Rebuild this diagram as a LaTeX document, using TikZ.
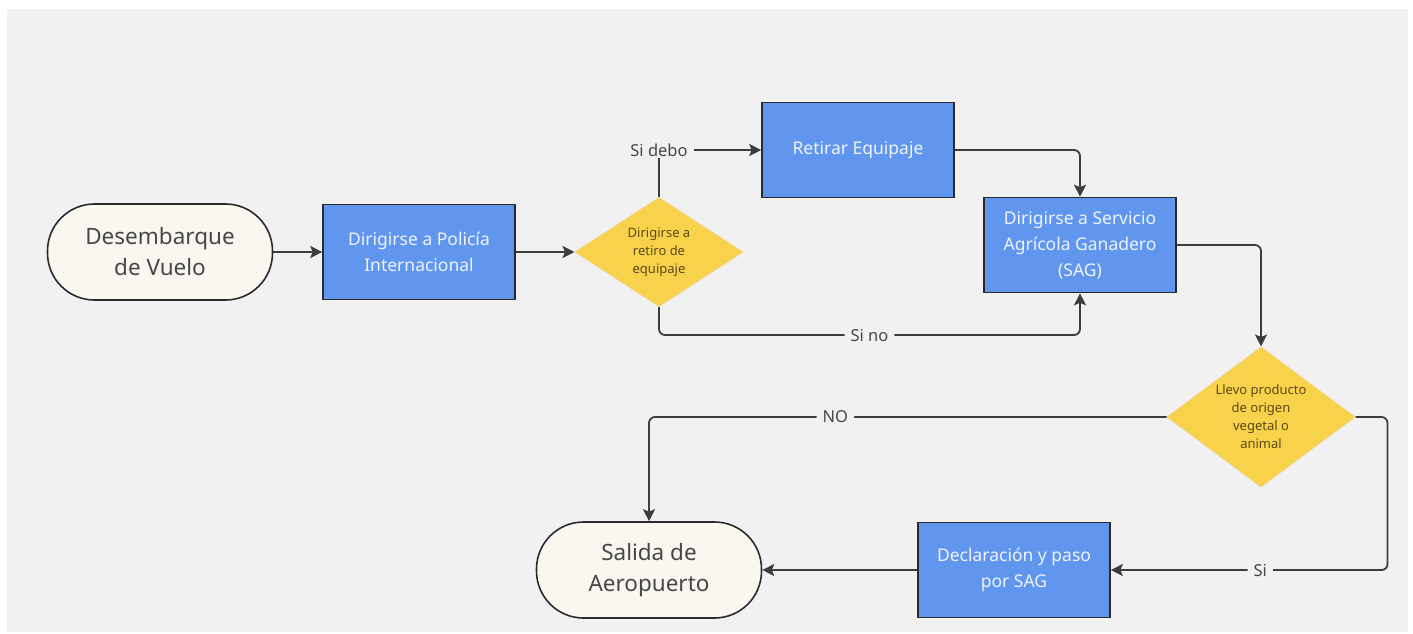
\documentclass[tikz,border=0pt]{standalone}
\usepackage{fontspec}
\setmainfont{Noto Sans}
\usetikzlibrary{shapes.geometric,arrows.meta,positioning}
\definecolor{fondo}{HTML}{F1F1F1}
\definecolor{crema}{HTML}{FAF7F0}
\definecolor{borde}{HTML}{2B2B2B}
\definecolor{azul}{HTML}{6096EE}
\definecolor{textoazul}{HTML}{EEF3FF}
\definecolor{amarillo}{HTML}{F8D24A}
\definecolor{bordeamarillo}{HTML}{F0D67E}
\definecolor{textoamarillo}{HTML}{5B4A17}
\definecolor{linea}{HTML}{3D3D3D}
\definecolor{textogris}{HTML}{474747}
\begin{document}
\begin{tikzpicture}[x=1pt,y=-1pt,
    inicio/.style={rectangle,rounded corners=47pt,draw=borde,line width=1.6pt,fill=crema,
      minimum width=225pt,minimum height=96pt,align=center,text=textogris,
      font=\fontsize{22.5}{31}\selectfont},
    proceso/.style={rectangle,draw=borde,line width=1.6pt,fill=azul,
      minimum width=192pt,minimum height=95pt,align=center,text=textoazul,
      font=\fontsize{17.5}{26}\selectfont},
    decision/.style={diamond,fill=amarillo,draw=bordeamarillo,line width=1pt,inner sep=0pt,
      align=center,text=textoamarillo,font=\fontsize{13}{18}\selectfont},
    flecha/.style={draw=linea,line width=1.8pt,rounded corners=6pt,
      -{Stealth[length=12pt,width=12pt,inset=2.5pt]}},
    etiqueta/.style={fill=fondo,inner xsep=6pt,inner ysep=2pt,text=textogris,
      font=\fontsize{16.5}{20}\selectfont}]
  \useasboundingbox[fill=white] (0,0) rectangle (1413,633);
  \fill[fondo] (7,9) rectangle (1408,632);

  \node[inicio] (desembarque) at (160,252) {Desembarque\\de Vuelo};
  \node[proceso] (policia) at (419,252) {Dirigirse a Policía\\Internacional};
  \node[decision,minimum width=168pt,minimum height=109pt,shape aspect=1.5] (retiro) at (659,252)
    {Dirigirse a\\retiro de\\equipaje};
  \node[proceso] (equipaje) at (858,150) {Retirar Equipaje};
  \node[proceso] (sag) at (1080,245) {Dirigirse a Servicio\\Agrícola Ganadero\\(SAG)};
  \node[decision,minimum width=188pt,minimum height=140pt,shape aspect=1.34] (producto) at (1261,417)
    {Llevo producto\\de origen\\vegetal o\\animal};
  \node[inicio] (salida) at (649,570) {Salida de\\Aeropuerto};
  \node[proceso] (declaracion) at (1014,570) {Declaración y paso\\por SAG};

  \draw[flecha] (desembarque) -- (policia);
  \draw[flecha] (policia) -- (retiro);
  \draw[flecha,rounded corners=0pt] (retiro.north) |- node[etiqueta,pos=0.5] {Si debo} (equipaje.west);
  \draw[flecha] (equipaje.east) -| (sag.north);
  \draw[flecha] (retiro.south) -- ++(0,28) -| node[etiqueta,pos=0.25] {Si no} (sag.south);
  \draw[flecha] (sag.east) -| (producto.north);
  \draw[flecha] (producto.west) -| node[etiqueta,pos=0.32] {NO} (salida.north);
  \draw[flecha] (producto.east) -- ++(32,0) |- node[etiqueta,pos=0.73] {Si} (declaracion.east);
  \draw[flecha] (declaracion) -- (salida);
\end{tikzpicture}
\end{document}
